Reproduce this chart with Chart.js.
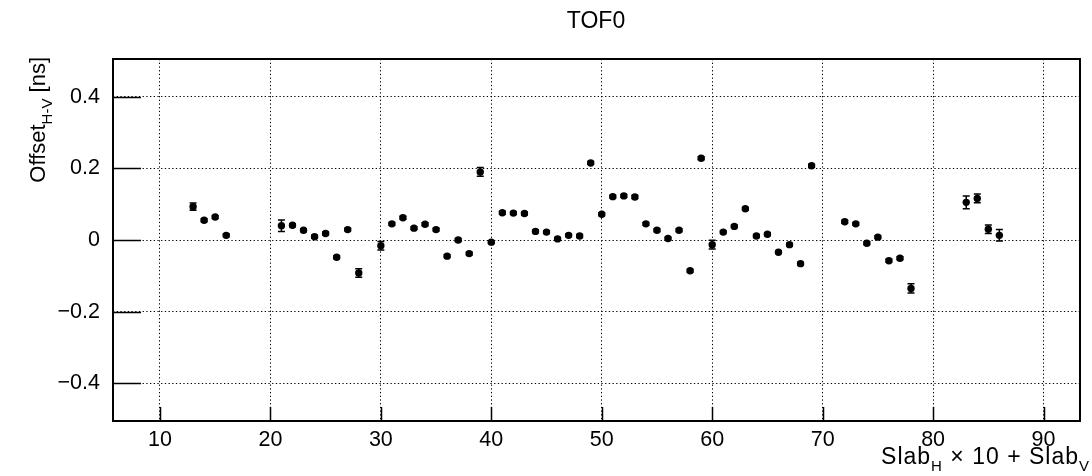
<!DOCTYPE html>
<html>
<head>
<meta charset="utf-8">
<script src="https://cdn.jsdelivr.net/npm/chart.js@4"></script>
<style>
  html, body { margin: 0; padding: 0; background: #fff; }
  #wrap { width: 1092px; height: 476px; }
</style>
</head>
<body>
<div id="wrap"><canvas id="tofChart" width="1092" height="476"></canvas></div>
<script>
// TOF0: H-V offset per slab pair

const slabIds = [13, 14, 15, 16, 21, 22, 23, 24, 25, 26, 27, 28, 30, 31, 32, 33, 34, 35, 36, 37, 38, 39, 40,
    41, 42, 43, 44, 45, 46, 47, 48, 49, 50, 51, 52, 53, 54, 55, 56, 57, 58, 59, 60, 61, 62, 63, 64, 65, 66, 67,
    68, 69, 72, 73, 74, 75, 76, 77, 78, 83, 84, 85, 86];
const offsets = [0.093, 0.055, 0.064, 0.013, 0.040, 0.041, 0.027, 0.009, 0.018, -0.048, 0.029, -0.092,
    -0.016, 0.045, 0.062, 0.033, 0.044, 0.029, -0.045, 0.000, -0.038, 0.190, -0.006,
    0.076, 0.075, 0.074, 0.024, 0.022, 0.003, 0.013, 0.011, 0.215, 0.072, 0.121, 0.123, 0.120, 0.045, 0.027,
    0.004, 0.027, -0.086, 0.228, -0.013, 0.022, 0.038, 0.087, 0.011, 0.016, -0.034, -0.013,
    -0.066, 0.207, 0.051, 0.045, -0.009, 0.008, -0.058, -0.051, -0.135, 0.105, 0.116, 0.030, 0.013];
const errors = [0.010, 0.004, 0.004, 0.004, 0.016, 0.004, 0.004, 0.004, 0.004, 0.004, 0.004, 0.012,
    0.012, 0.004, 0.004, 0.004, 0.004, 0.004, 0.004, 0.004, 0.004, 0.012, 0.004,
    0.004, 0.004, 0.004, 0.004, 0.004, 0.004, 0.004, 0.004, 0.004, 0.004, 0.004, 0.004, 0.004, 0.004, 0.004,
    0.004, 0.004, 0.004, 0.004, 0.012, 0.004, 0.004, 0.004, 0.004, 0.004, 0.004, 0.004,
    0.004, 0.004, 0.004, 0.004, 0.004, 0.004, 0.004, 0.004, 0.013, 0.018, 0.012, 0.012, 0.016];

const xTicks = [10, 20, 30, 40, 50, 60, 70, 80, 90];
const yTicks = [-0.4, -0.2, 0, 0.2, 0.4];
const yTickLabels = ['\u22120.4', '\u22120.2', '0', '0.2', '0.4'];

const FONT = '"Liberation Sans", Arial, Helvetica, sans-serif';

// テキスト（下付き文字対応）を右揃えで描画
function drawRich(ctx, parts, x, y, size, subSize, subDrop) {
    let total = 0;
    parts.forEach(p => {
        ctx.font = (p.sub ? subSize : size) + 'px ' + FONT;
        p.w = ctx.measureText(p.text).width;
        total += p.w;
    });
    let cx = x - total;
    ctx.textAlign = 'left';
    ctx.textBaseline = 'alphabetic';
    parts.forEach(p => {
        ctx.font = (p.sub ? subSize : size) + 'px ' + FONT;
        ctx.fillText(p.text, cx, p.sub ? y + subDrop : y);
        cx += p.w;
    });
}

// 誤差棒・枠・目盛・タイトル
const rootStyle = {
    id: 'rootStyle',
    beforeDatasetsDraw(chart) {
        const ctx = chart.ctx;
        const xs = chart.scales.x, ys = chart.scales.y;
        ctx.save();
        ctx.strokeStyle = '#000';
        ctx.lineWidth = 1.5;
        slabIds.forEach((id, i) => {
            const px = xs.getPixelForValue(id);
            const top = ys.getPixelForValue(offsets[i] + errors[i]);
            const bot = ys.getPixelForValue(offsets[i] - errors[i]);
            ctx.beginPath();
            ctx.moveTo(px, top); ctx.lineTo(px, bot);
            ctx.moveTo(px - 3.5, top); ctx.lineTo(px + 3.5, top);
            ctx.moveTo(px - 3.5, bot); ctx.lineTo(px + 3.5, bot);
            ctx.stroke();
        });
        ctx.restore();
    },
    afterDraw(chart) {
        const ctx = chart.ctx;
        const a = chart.chartArea;
        const xs = chart.scales.x, ys = chart.scales.y;
        ctx.save();
        ctx.strokeStyle = '#000';
        ctx.fillStyle = '#000';
        // 目盛（内向き）
        ctx.lineWidth = 1.5;
        ctx.beginPath();
        yTicks.forEach(v => {
            const py = Math.round(ys.getPixelForValue(v)) + 0.5;
            ctx.moveTo(a.left, py); ctx.lineTo(a.left + 28, py);
        });
        xTicks.forEach(v => {
            const px = Math.round(xs.getPixelForValue(v)) + 0.5;
            ctx.moveTo(px, a.bottom); ctx.lineTo(px, a.bottom - 14);
        });
        ctx.stroke();
        // 枠
        ctx.lineWidth = 2;
        ctx.strokeRect(a.left, a.top, a.right - a.left, a.bottom - a.top);

        // タイトル
        ctx.font = '23px ' + FONT;
        ctx.textAlign = 'center';
        ctx.textBaseline = 'alphabetic';
        ctx.fillText('TOF0', 596, 28);

        // x軸ラベル
        ctx.save();
        ctx.letterSpacing = '1px';
        drawRich(ctx, [
            { text: 'Slab' }, { text: 'H', sub: true }, { text: ' \u00d7 10 + Slab' }, { text: 'V', sub: true }
        ], 1090, 464, 23, 15, 7);
        ctx.restore();

        // y軸ラベル
        ctx.translate(45, 57);
        ctx.rotate(-Math.PI / 2);
        drawRich(ctx, [
            { text: 'Offset' }, { text: 'H-V', sub: true }, { text: ' [ns]' }
        ], 0, 0, 22, 15, 7);
        ctx.restore();
    }
};

const points = slabIds.map((id, i) => ({ x: id, y: offsets[i] }));

new Chart(document.getElementById('tofChart').getContext('2d'), {
    type: 'scatter',
    data: {
        datasets: [{
            label: 'TOF0',
            data: points,
            backgroundColor: '#000',
            borderColor: '#000',
            pointRadius: 3.7,
            pointHoverRadius: 3.7,
            borderWidth: 0
        }]
    },
    options: {
        responsive: false,
        animation: false,
        events: [],
        layout: {
            padding: { left: 0, right: 12, top: 59, bottom: 0 }
        },
        plugins: {
            legend: { display: false },
            title: { display: false },
            tooltip: { enabled: false }
        },
        scales: {
            x: {
                type: 'linear',
                min: 5.75,
                max: 93.3,
                afterFit(scale) { scale.height = 55; },
                afterBuildTicks(scale) { scale.ticks = xTicks.map(v => ({ value: v })); },
                grid: { color: '#000', lineWidth: 1, drawTicks: false },
                border: { display: false, dash: [1.3, 2.4] },
                ticks: {
                    color: '#000',
                    padding: 6,
                    maxRotation: 0,
                    font: { family: FONT, size: 21.5 },
                    callback: v => String(v)
                }
            },
            y: {
                type: 'linear',
                min: -0.505,
                max: 0.505,
                afterFit(scale) { scale.width = 113; },
                afterBuildTicks(scale) { scale.ticks = yTicks.map(v => ({ value: v })); },
                grid: { color: '#000', lineWidth: 1, drawTicks: false },
                border: { display: false, dash: [1.3, 2.4] },
                ticks: {
                    color: '#000',
                    padding: 13,
                    font: { family: FONT, size: 21.5 },
                    callback: v => yTickLabels[yTicks.findIndex(t => Math.abs(t - v) < 1e-9)]
                }
            }
        }
    },
    plugins: [rootStyle]
});
</script>
</body>
</html>
